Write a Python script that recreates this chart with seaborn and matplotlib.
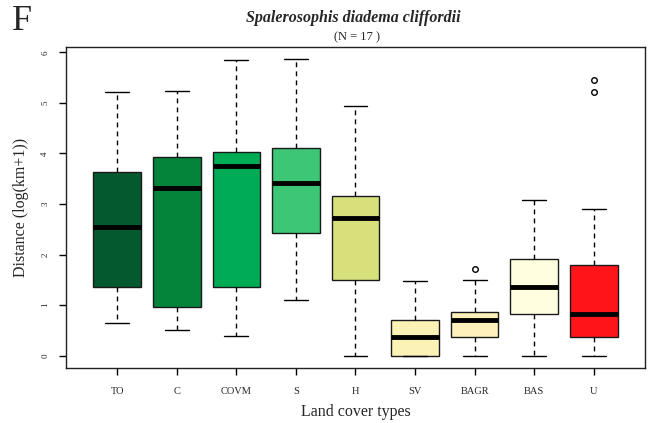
import pandas as pd
import numpy as np
import matplotlib
matplotlib.use("Agg")
import matplotlib.pyplot as plt
import seaborn as sns

# five-number summaries (min, q1, median, q3, max)
cover = ["TO", "C", "COVM", "S", "H", "SV", "BAGR", "BAS", "U"]
lows    = [0.65, 0.51, 0.39, 1.10, 0.00, 0.00, 0.00, 0.00, 0.00]
q1s     = [1.36, 0.97, 1.36, 2.43, 1.50, 0.00, 0.37, 0.82, 0.37]
medians = [2.54, 3.32, 3.75, 3.41, 2.72, 0.37, 0.70, 1.35, 0.83]
q3s     = [3.63, 3.93, 4.03, 4.11, 3.16, 0.71, 0.86, 1.91, 1.79]
highs   = [5.22, 5.24, 5.85, 5.87, 4.94, 1.47, 1.50, 3.07, 2.90]
out_cover = ["BAGR", "U", "U"]
out_vals  = [1.72, 5.21, 5.45]
colors = ["#045a2e", "#03843a", "#00ab55", "#3cc675", "#d8e07c",
          "#fbf3b6", "#fff0bc", "#ffffe0", "#ff1419"]

rows = []
for c, a, b, m, d, e in zip(cover, lows, q1s, medians, q3s, highs):
    for v in (a, b, m, d, e):
        rows.append((c, v))
df = pd.DataFrame(rows, columns=["cover", "dist"])
out = pd.DataFrame({"cover": out_cover, "dist": out_vals})

sns.set_style("ticks")
plt.rcParams["font.family"] = ["Liberation Serif", "DejaVu Serif"]

fig = plt.figure(figsize=(6.5, 4.23), dpi=100)
ax = fig.add_axes([0.1015, 0.1307, 0.8908, 0.7575])

sns.boxplot(data=df, x="cover", y="dist", hue="cover", order=cover,
            palette=dict(zip(cover, colors)), legend=False, whis=(0, 100),
            width=0.8, saturation=1, linecolor="#1a1a1a", linewidth=1,
            showfliers=False,
            medianprops=dict(color="black", linewidth=3.5),
            whiskerprops=dict(linestyle=(0, (3.5, 3)), color="black", linewidth=1),
            capprops=dict(color="black", linewidth=1),
            ax=ax)
sns.stripplot(data=out, x="cover", y="dist", order=cover, jitter=False,
              color="white", edgecolor="black", linewidth=1, size=4,
              ax=ax, zorder=5)

ax.set_xlim(-0.86, 8.86)
ax.set_ylim(-0.24, 6.1)
ax.set_yticks(range(7))
ax.set_xticks(range(len(cover)))
ax.set_xticklabels(cover, fontsize=7.5)
ax.tick_params(axis="x", length=5, width=1, pad=9, color="black")
ax.tick_params(axis="y", length=5, width=1, pad=7, labelsize=6.5,
               labelrotation=90, color="black")
for lab in ax.get_yticklabels():
    lab.set_verticalalignment("center")
for sp in ax.spines.values():
    sp.set_visible(True)
    sp.set_linewidth(1)
    sp.set_color("#222222")

ax.set_xlabel("Land cover types", fontsize=11.5, labelpad=6)
ax.set_ylabel("Distance (log(km+1))", fontsize=11.5, labelpad=9)

fig.text(0.543, 0.958, "Spalerosophis diadema cliffordii",
         ha="center", va="center", fontsize=11.5, fontweight="bold", fontstyle="italic")
fig.text(0.549, 0.912, "(N = 17 )", ha="center", va="center", fontsize=9)
fig.text(0.019, 0.950, "F", ha="left", va="center", fontsize=26)

plt.savefig("out.png", dpi=100)
plt.close()
